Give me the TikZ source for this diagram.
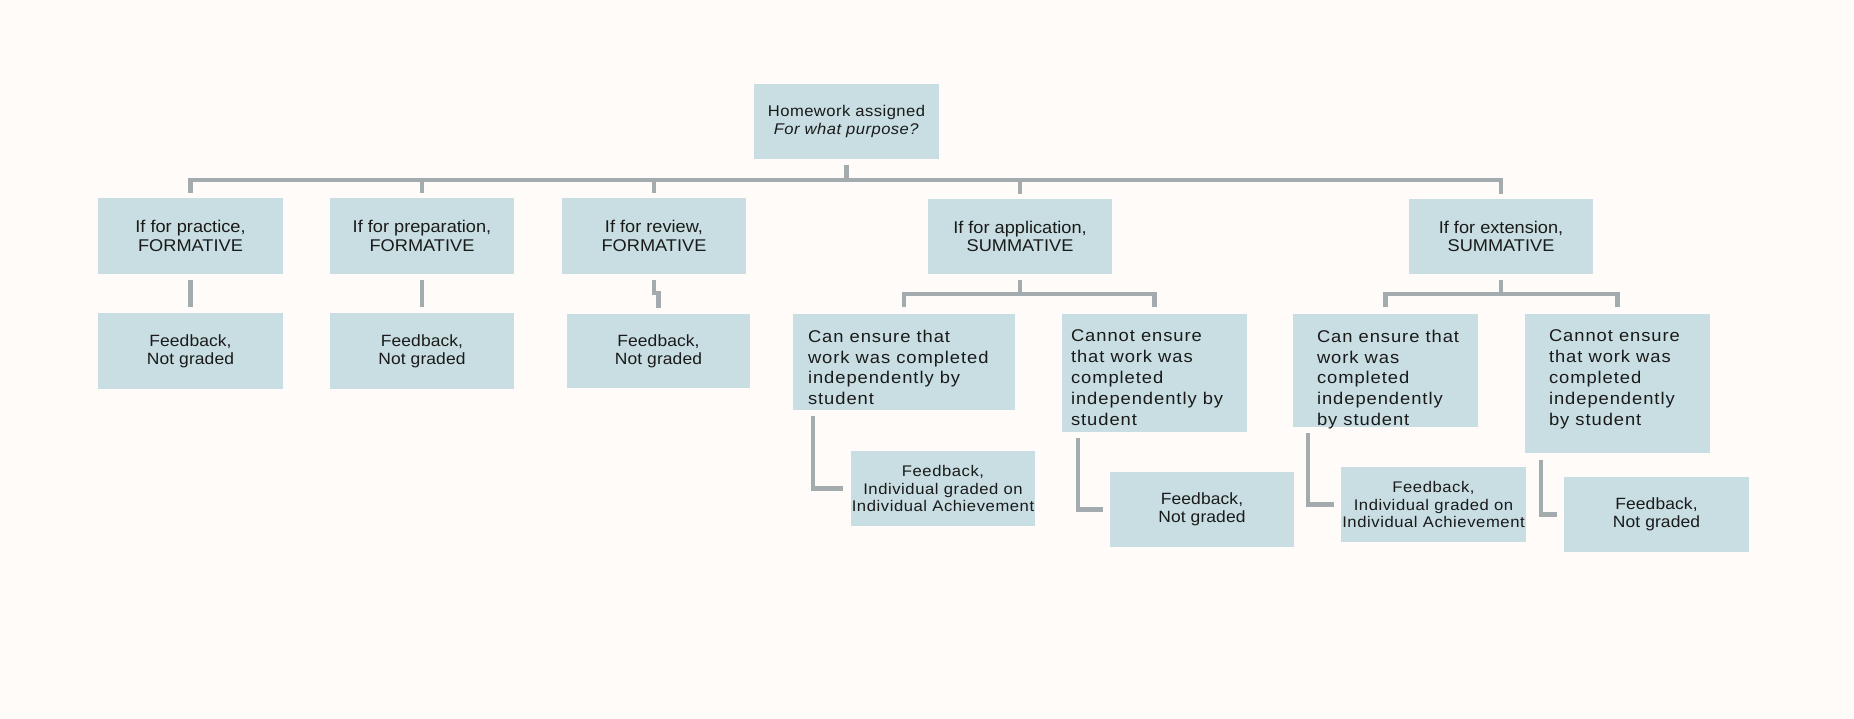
\documentclass[tikz,border=0pt]{standalone}
\usepackage{fontspec}
\setmainfont{Liberation Sans}
\newfontfamily\fTop{Liberation Sans}[FakeStretch=1.07]
\newfontfamily\fRoot{Liberation Sans}[FakeStretch=1.07, LetterSpace=3]
\newfontfamily\fNG{Liberation Sans}[FakeStretch=1.07, LetterSpace=0.6]
\newfontfamily\fInd{Liberation Sans}[FakeStretch=1.08, LetterSpace=3.7]
\newfontfamily\fBig{Liberation Sans}[FakeStretch=1.08, LetterSpace=5.6]
\definecolor{bgcol}{HTML}{FEFBF8}
\definecolor{boxfill}{HTML}{C8DEE2}
\definecolor{linegray}{HTML}{A3ABAE}
\definecolor{txtcol}{HTML}{1A1A1A}
\tikzset{
  box/.style={fill=boxfill, inner sep=0pt, align=center, text=txtcol},
  conn/.style={draw=linegray, line width=4.5pt},
  toptext/.style={font=\fTop\fontsize{17}{18.5}\selectfont},
  ngtext/.style={font=\fNG\fontsize{16.3}{18}\selectfont},
  indtext/.style={font=\fInd\fontsize{15.4}{17.6}\selectfont},
  bigtext/.style={font=\fBig\fontsize{17}{20.8}\selectfont, inner sep=0pt, align=left, text=txtcol, anchor=north west},
}
\begin{document}
\begin{tikzpicture}[x=1pt,y=-1pt]
\fill[bgcol] (0,0) rectangle (1854,719);
\useasboundingbox (0,0) rectangle (1854,719);

% root
\node[box, minimum width=185pt, minimum height=75pt, font=\fRoot\fontsize{15.5}{18}\selectfont] (root) at (846.5,121.5) {Homework assigned\\\textit{For what purpose?}};

% level 1
\node[box, toptext, minimum width=185pt, minimum height=76pt] (prac) at (190.5,236) {If for practice,\\FORMATIVE};
\node[box, toptext, minimum width=184pt, minimum height=76pt] (prep) at (422,236) {If for preparation,\\FORMATIVE};
\node[box, toptext, minimum width=184pt, minimum height=76pt] (rev) at (654,236) {If for review,\\FORMATIVE};
\node[box, toptext, minimum width=184pt, minimum height=75pt] (app) at (1020,236.5) {If for application,\\SUMMATIVE};
\node[box, toptext, minimum width=184pt, minimum height=75pt] (ext) at (1501,236.5) {If for extension,\\SUMMATIVE};

% formative outcomes
\node[box, ngtext, minimum width=185pt, minimum height=76pt] (fbprac) at (190.5,351) {Feedback,\\Not graded};
\node[box, ngtext, minimum width=184pt, minimum height=76pt] (fbprep) at (422,351) {Feedback,\\Not graded};
\node[box, ngtext, minimum width=183pt, minimum height=74pt] (fbrev) at (658.5,351) {Feedback,\\Not graded};

% summative conditions
\node[box, minimum width=222pt, minimum height=96pt] (appcan) at (904,362) {};
\node[bigtext] (appcant) at ([xshift=15pt,yshift=-16pt]appcan.north west) {Can ensure that\\work was completed\\independently by\\student};
\node[box, minimum width=185pt, minimum height=118pt] (appcannot) at (1154.5,373) {};
\node[bigtext] (appcannott) at ([xshift=9pt,yshift=-16pt]appcannot.north west) {Cannot ensure\\that work was\\completed\\independently by\\student};
\node[box, minimum width=185pt, minimum height=113pt] (extcan) at (1385.5,370.5) {};
\node[bigtext] (extcant) at ([xshift=24pt,yshift=-16pt]extcan.north west) {Can ensure that\\work was\\completed\\independently\\by student};
\node[box, minimum width=185pt, minimum height=139pt] (extcannot) at (1617.5,383.5) {};
\node[bigtext] (extcannott) at ([xshift=24pt,yshift=-16pt]extcannot.north west) {Cannot ensure\\that work was\\completed\\independently\\by student};

% summative outcomes
\node[box, indtext, minimum width=184pt, minimum height=75pt] (appfbind) at (943,488.5) {Feedback,\\Individual graded on\\Individual Achievement};
\node[box, ngtext, minimum width=184pt, minimum height=75pt] (appfbng) at (1202,509.5) {Feedback,\\Not graded};
\node[box, indtext, minimum width=185pt, minimum height=75pt] (extfbind) at (1433.5,504.5) {Feedback,\\Individual graded on\\Individual Achievement};
\node[box, ngtext, minimum width=185pt, minimum height=75pt] (extfbng) at (1656.5,514.5) {Feedback,\\Not graded};

% connectors level 1
\coordinate (bar) at (846.5,180);
\draw[conn] ([yshift=-6pt]root.south) -- (root.south |- bar);
\draw[conn] ([yshift=5pt]prac.north) |- (bar -| ext.north) -- ([yshift=5pt]ext.north);
\foreach \n in {prep,rev,app}
  \draw[conn] (bar -| \n.north) -- ([yshift=5pt]\n.north);

% formative
\draw[conn] ([yshift=-6pt]prac.south) -- ([yshift=6pt]fbprac.north);
\draw[conn] ([yshift=-6pt]prep.south) -- ([yshift=6pt]fbprep.north);
\draw[conn] ([yshift=-6pt]rev.south) -- ++(0pt,-13pt) -| ([yshift=6pt]fbrev.north);

% application
\coordinate (appbar) at (1020,294);
\draw[conn] ([yshift=-6pt]app.south) -- (appbar);
\draw[conn] ([yshift=7pt]appcan.north) |- (appbar -| appcannot.north) -- ([yshift=7pt]appcannot.north);
\draw[conn] ([xshift=20pt,yshift=-6pt]appcan.south west) |- ([xshift=-8pt]appfbind.west);
\draw[conn] ([xshift=16pt,yshift=-6pt]appcannot.south west) |- ([xshift=-7pt]appfbng.west);

% extension
\coordinate (extbar) at (1501,294);
\draw[conn] ([yshift=-6pt]ext.south) -- (extbar);
\draw[conn] ([yshift=7pt]extcan.north) |- (extbar -| extcannot.north) -- ([yshift=7pt]extcannot.north);
\draw[conn] ([xshift=15pt,yshift=-6pt]extcan.south west) |- ([xshift=-7pt]extfbind.west);
\draw[conn] ([xshift=16pt,yshift=-7pt]extcannot.south west) |- ([xshift=-7pt]extfbng.west);
\end{tikzpicture}
\end{document}
